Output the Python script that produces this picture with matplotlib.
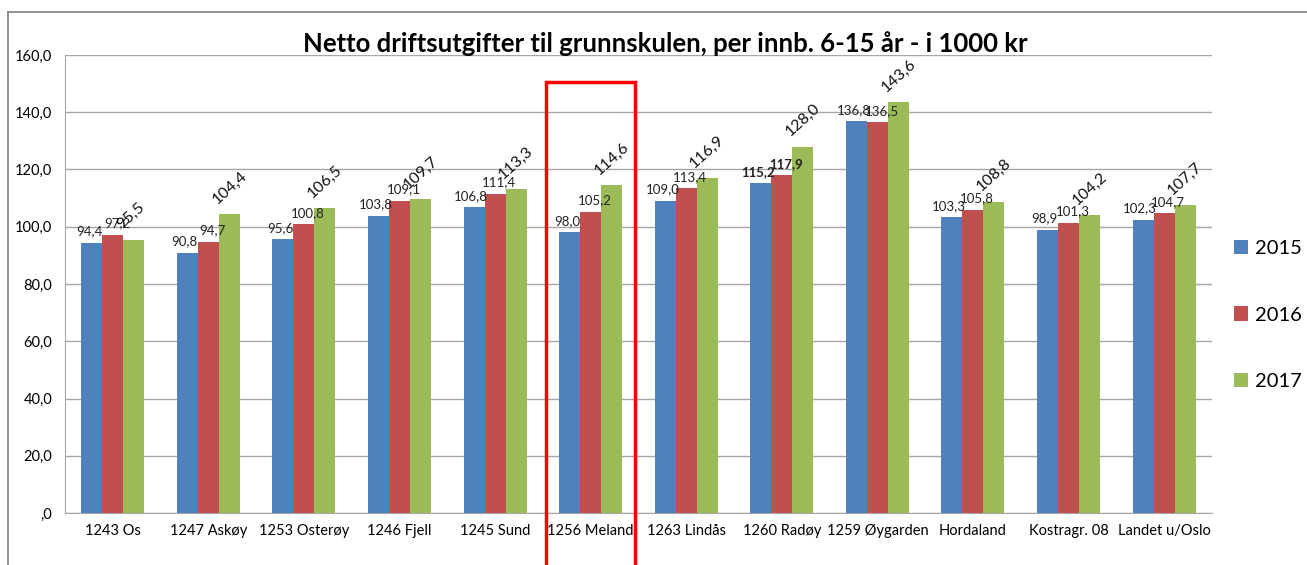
"""
Netto driftsutgifter til grunnskulen, per innb. 6-15 år (i 1000 kr).
Grouped bar chart, three years per municipality.
"""

import matplotlib

matplotlib.use("Agg")
import matplotlib.pyplot as plt
import matplotlib.ticker as mticker
from matplotlib.lines import Line2D
from matplotlib.patches import Rectangle
import numpy as np

plt.rcParams["font.family"] = ["Lato", "DejaVu Sans"]

# ── Data ──────────────────────────────────────────────────────────────────────
categories = [
    "1243 Os", "1247 Askøy", "1253 Osterøy", "1246 Fjell", "1245 Sund",
    "1256 Meland", "1263 Lindås", "1260 Radøy", "1259 Øygarden",
    "Hordaland", "Kostragr. 08", "Landet u/Oslo",
]
years = ["2015", "2016", "2017"]
v2015 = [94.4, 90.8, 95.6, 103.8, 106.8, 98.0, 109.0, 115.2, 136.8, 103.3, 98.9, 102.3]
v2016 = [97.2, 94.7, 100.8, 109.1, 111.4, 105.2, 113.4, 117.9, 136.5, 105.8, 101.3, 104.7]
v2017 = [95.5, 104.4, 106.5, 109.7, 113.3, 114.6, 116.9, 128.0, 143.6, 108.8, 104.2, 107.7]
highlight = "1256 Meland"

# ── Style ─────────────────────────────────────────────────────────────────────
_COLORS = ["#4F81BD", "#C0504D", "#9BBB59"]
_GRID = "#A6A6A6"
_BOLD = {(7, 0), (7, 1)}  # (category, series) labels drawn in bold

fig = plt.figure(figsize=(13.07, 5.65), dpi=100)
ax = fig.add_axes([0.0497, 0.092, 0.8775, 0.8107])

x = np.arange(len(categories))
bw = 0.22
series = [v2015, v2016, v2017]
for i, (vals, year, col) in enumerate(zip(series, years, _COLORS)):
    pos = x + (i - 1) * bw
    ax.bar(pos, vals, width=bw, color=col, label=year, zorder=3)
    for j, (px, v) in enumerate(zip(pos, vals)):
        txt = f"{v:.1f}".replace(".", ",")
        if i == 2:
            ax.annotate(txt, (px, v), xytext=(-9, 7), textcoords="offset points",
                        rotation=42, rotation_mode="anchor", ha="left", va="baseline",
                        fontsize=11.5, color="#111111", zorder=4)
        else:
            dx = -2 if i == 0 else 3
            ax.annotate(txt, (px, v), xytext=(dx, 4), textcoords="offset points",
                        ha="center", va="bottom", fontsize=9.5,
                        fontweight="bold" if (j, i) in _BOLD else "normal",
                        color="#222222", zorder=4)

ax.set_xlim(-0.5, len(categories) - 0.5)
ax.set_ylim(0, 160)
ax.yaxis.set_major_locator(mticker.MultipleLocator(20))
ax.yaxis.set_major_formatter(
    mticker.FuncFormatter(lambda v, _: ",0" if v == 0 else f"{v:.1f}".replace(".", ","))
)
ax.set_xticks(x)
ax.set_xticklabels(categories, fontsize=10.5)
ax.tick_params(axis="y", labelsize=10.5, length=0, pad=9)
ax.tick_params(axis="x", length=0, pad=8)
ax.grid(axis="y", color=_GRID, linewidth=1, zorder=0)
ax.spines[["top", "right"]].set_visible(False)
ax.spines["left"].set_color(_GRID)
ax.spines["bottom"].set_color(_GRID)

fig.text(0.509, 0.923, "Netto driftsutgifter til grunnskulen, per innb. 6-15 år - i 1000 kr",
         ha="center", va="center", fontsize=18.5, fontweight="bold")

# red highlight box around one municipality
hi = categories.index(highlight)
ax.add_patch(Rectangle((hi - 0.47, -19), 0.93, 169.5, fill=False,
                       edgecolor="#FF0000", linewidth=2.5, clip_on=False, zorder=5))

# chart frame (left + top edges)
fig.add_artist(Line2D([8 / 1307, 8 / 1307], [0, 1 - 12 / 565], color="#7F7F7F", lw=1.2))
fig.add_artist(Line2D([8 / 1307, 1], [1 - 12 / 565, 1 - 12 / 565], color="#7F7F7F", lw=1.2))

fig.legend(loc="center left", bbox_to_anchor=(1234 / 1307, 1 - 315 / 565),
           frameon=False, fontsize=14.5, handlelength=0.7, handleheight=0.7,
           handletextpad=0.35, labelspacing=2.45, borderpad=0, borderaxespad=0)

fig.savefig("out.png", dpi=100)
